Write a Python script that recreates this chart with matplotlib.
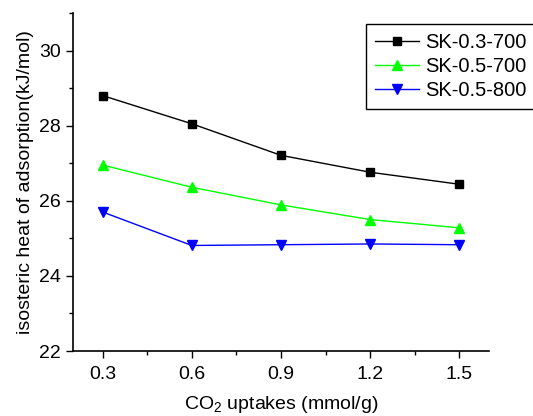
import matplotlib
matplotlib.use("Agg")
import matplotlib.pyplot as plt
from matplotlib.ticker import MultipleLocator

plt.rcParams['font.family'] = ['Liberation Sans', 'DejaVu Sans']
plt.rcParams['mathtext.fontset'] = 'custom'
plt.rcParams['mathtext.rm'] = 'Liberation Sans'
plt.rcParams['mathtext.it'] = 'Liberation Sans:italic'
plt.rcParams['mathtext.bf'] = 'Liberation Sans:bold'

uptake = [0.3, 0.6, 0.9, 1.2, 1.5]
sk_03_700 = [28.80, 28.05, 27.21, 26.76, 26.44]
sk_05_700 = [26.95, 26.36, 25.89, 25.50, 25.28]
sk_05_800 = [25.70, 24.81, 24.83, 24.85, 24.83]
labels = ['SK-0.3-700', 'SK-0.5-700', 'SK-0.5-800']
xticks = [0.3, 0.6, 0.9, 1.2, 1.5]
xticklabels = ['0.3', '0.6', '0.9', '1.2', '1.5']
yticks = [22, 24, 26, 28, 30]

fig = plt.figure(figsize=(5.33, 4.16), dpi=100)
ax = fig.add_axes([73/533, 65/416, 416/533, 338/416])

ax.plot(uptake, sk_03_700, color='black', marker='s', markersize=5.5, lw=1, label=labels[0])
ax.plot(uptake, sk_05_700, color='#00ff00', marker='^', markersize=6.5, lw=1, label=labels[1])
ax.plot(uptake, sk_05_800, color='#0000ff', marker='v', markersize=6.5, lw=1, label=labels[2])

ax.set_xlim(0.2, 1.6)
ax.set_ylim(22, 31)
ax.set_xticks(xticks)
ax.set_xticklabels(xticklabels)
ax.set_yticks(yticks)
ax.xaxis.set_minor_locator(MultipleLocator(0.15))
ax.yaxis.set_minor_locator(MultipleLocator(1))
ax.spines['top'].set_visible(False)
ax.spines['right'].set_visible(False)
for s in ['left', 'bottom']:
    ax.spines[s].set_linewidth(1.2)
ax.tick_params(axis='both', which='major', direction='out', length=5, width=1, labelsize=14)
ax.tick_params(axis='x', which='major', pad=6)
ax.tick_params(axis='both', which='minor', direction='out', length=3, width=1)

ax.set_xlabel('CO$_2$ uptakes (mmol/g)', fontsize=14, labelpad=8)
ax.set_ylabel('isosteric heat of adsorption(kJ/mol)', fontsize=14, labelpad=4)

leg = fig.legend(loc='upper left', bbox_to_anchor=(366/533, 1 - 24/416), fontsize=14.5,
                 frameon=True, fancybox=False, edgecolor='black', framealpha=1,
                 handlelength=2.2, borderpad=0.45, labelspacing=0.25, handletextpad=0.3,
                 borderaxespad=0)
leg.get_frame().set_linewidth(1)

fig.savefig('out.png', dpi=100)
